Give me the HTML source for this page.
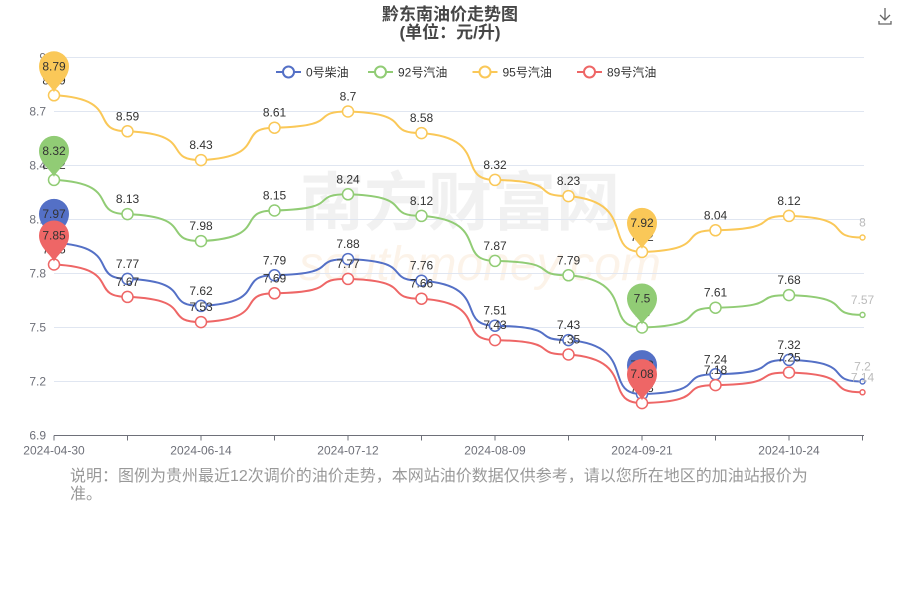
<!DOCTYPE html>
<html><head><meta charset="utf-8"><style>
body{margin:0;background:#fff;font-family:"Liberation Sans","Noto Sans CJK SC",sans-serif}
#wrap{position:relative;width:900px;height:600px}
.note{position:absolute;left:70px;top:468px;width:745px;font-size:16px;color:#999;line-height:18px}
</style></head><body>
<div id="wrap">
<svg id="chart" width="900" height="600" font-family="Liberation Sans, Noto Sans CJK SC, sans-serif"></svg>
<div class="note">说明：图例为贵州最近12次调价的油价走势，本网站油价数据仅供参考，请以您所在地区的加油站报价为准。</div>
</div>
<script>
const categories=["2024-04-30","2024-05-15","2024-06-14","2024-06-28","2024-07-12","2024-07-26","2024-08-09","2024-08-23","2024-09-21","2024-10-10","2024-10-24","2024-11-07"];
const shownTicks=["2024-04-30","2024-06-14","2024-07-12","2024-08-09","2024-09-21","2024-10-24"];
const yTicks=[6.9,7.2,7.5,7.8,8.1,8.4,8.7,9.0];
const seriesNames=["0号柴油","92号汽油","95号汽油","89号汽油"];
const diesel0=[7.97,7.77,7.62,7.79,7.88,7.76,7.51,7.43,7.13,7.24,7.32,7.2];
const gas92=[8.32,8.13,7.98,8.15,8.24,8.12,7.87,7.79,7.5,7.61,7.68,7.57];
const gas95=[8.79,8.59,8.43,8.61,8.7,8.58,8.32,8.23,7.92,8.04,8.12,8.0];
const gas89=[7.85,7.67,7.53,7.69,7.77,7.66,7.43,7.35,7.08,7.18,7.25,7.14];
const colors=["#5470c6","#91cc75","#fac858","#ee6666"];
const svg=document.getElementById('chart');const NS="http://www.w3.org/2000/svg";
function el(t,a,p){const e=document.createElementNS(NS,t);for(const k in a)e.setAttribute(k,a[k]);(p||svg).appendChild(e);return e;}
const X0=54,X1=862.5,Y0=435.5,YMIN=6.9,YMAX=9.0,PY=180;
const x=i=>X0+i*(X1-X0)/(categories.length-1);
const y=v=>Y0-(v-YMIN)*PY;
let t=el('text',{x:450,y:20,'text-anchor':'middle','font-size':17,'font-weight':'bold',fill:'#464646'});t.textContent='黔东南油价走势图';

t=el('text',{x:450,y:38,'text-anchor':'middle','font-size':17,'font-weight':'bold',fill:'#464646'});t.textContent='(单位：元/升)';

const dl=el('path',{d:'M885 8v12M880 15l5 5 5-5M879 21v3h12v-3',stroke:'#666',fill:'none','stroke-width':1.3});

t=el('text',{x:460,y:225,'text-anchor':'middle','font-size':64,'font-weight':'bold',fill:'#ececec',opacity:0.7});t.textContent='南方财富网';

t=el('text',{x:480,y:280,'text-anchor':'middle','font-size':48,'font-style':'italic',fill:'#fcefe0',opacity:0.7});t.textContent='southmoney.com';

yTicks.forEach(v=>{const g=el('line',{x1:X0,x2:864,y1:y(v),y2:y(v),stroke:'#e0e6f1'});

const l=el('text',{x:46,y:y(v)+4,'text-anchor':'end','font-size':12,fill:'#6e7079'});l.textContent=v.toFixed(1).replace(/\.0$/,'');
});
const ax=el('line',{x1:X0,x2:864,y1:Y0,y2:Y0,stroke:'#6e7079'});

categories.forEach((c,i)=>{const tk=el('line',{x1:x(i),x2:x(i),y1:Y0,y2:Y0+5,stroke:'#6e7079'});

if(shownTicks.includes(c)){const l=el('text',{x:x(i),y:Y0+19,'text-anchor':'middle','font-size':12,fill:'#6e7079'});l.textContent=c;
}});
let lx=276;
seriesNames.forEach((n,k)=>{const g=el('g',{});

el('line',{x1:lx,x2:lx+25,y1:72,y2:72,stroke:colors[k],'stroke-width':2},g);
el('circle',{cx:lx+12.5,cy:72,r:5.5,fill:'#fff',stroke:colors[k],'stroke-width':2},g);
const tt=el('text',{x:lx+30,y:76.5,'font-size':12,fill:'#333'},g);tt.textContent=n;
lx+=30+n.length*12.5+12;});
const all=[diesel0,gas92,gas95,gas89];
const pins=[];
all.forEach((d,k)=>{const g=el('g',{});

let p='M'+x(0)+' '+y(d[0]);
for(let i=1;i<d.length;i++){const x0=x(i-1),x1=x(i),dx=x1-x0;
p+=` C${x0+dx*0.95} ${y(d[i-1])+(y(d[i])-y(d[i-1]))*0.1} ${x0+dx*0.45} ${y(d[i])} ${x1} ${y(d[i])}`;}
el('path',{d:p,fill:'none',stroke:colors[k],'stroke-width':2},g);
d.forEach((v,i)=>{const last=i===d.length-1;
const c=el('circle',{cx:x(i),cy:y(v),r:last?2.5:5.5,fill:'#fff',stroke:colors[k],'stroke-width':1.5},g);

const l=el('text',{x:x(i),y:y(v)-11,'text-anchor':'middle','font-size':12,fill:last?'#bbb':'#333'},g);l.textContent=String(v);
});
let mx=0,mn=0;d.forEach((v,i)=>{if(v>d[mx])mx=i;if(v<d[mn])mn=i;});
pins.push([k,mx,d[mx]],[k,mn,d[mn]]);});
pins.forEach(([k,i,v])=>{const cx=x(i),cy=y(v)-29;
const g=el('g',{});
el('path',{d:`M${cx} ${cy+26} C${cx-4} ${cy+18} ${cx-15} ${cy+12} ${cx-15} ${cy} A15 15 0 1 1 ${cx+15} ${cy} C${cx+15} ${cy+12} ${cx+4} ${cy+18} ${cx} ${cy+26}Z`,fill:colors[k]},g);
const l=el('text',{x:cx,y:cy+4,'text-anchor':'middle','font-size':12,fill:'#333'},g);l.textContent=String(v);});
</script></body></html>
